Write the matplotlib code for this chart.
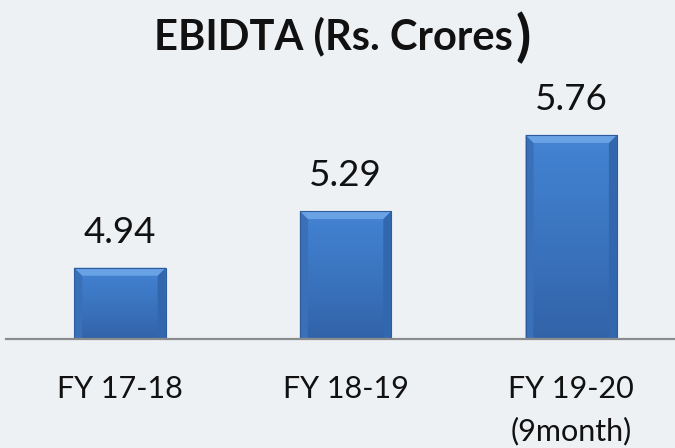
import matplotlib
matplotlib.use("Agg")
import matplotlib.pyplot as plt
import numpy as np
from matplotlib.colors import LinearSegmentedColormap
from matplotlib.patches import Polygon

categories = ["FY 17-18", "FY 18-19", "FY 19-20\n(9month)"]
values = [4.94, 5.29, 5.76]
value_labels = ["4.94", "5.29", "5.76"]
title_main = "EBIDTA (Rs. Crores"
title_close = ")"

plt.rcParams['font.family'] = ['Lato', 'DejaVu Sans']

W, H, DPI = 675, 448, 100
fig = plt.figure(figsize=(W / DPI, H / DPI), dpi=DPI)
bg = "#eef1f4"
fig.patch.set_facecolor(bg)

base_px = 339
scale = 162.0  # px per unit
ymin = 4.5
top_px = 20
ymax = ymin + (base_px - top_px) / scale

ax = fig.add_axes([6 / W, (H - base_px) / H, 1 - 6 / W, (base_px - top_px) / H])
ax.set_facecolor(bg)
ax.set_xlim(-0.505, 2.46)
ax.set_ylim(ymin, ymax)

x = np.arange(len(values))
bars = ax.bar(x, values, width=0.405, bottom=0, color="#4079c4",
              edgecolor="#2d5c9c", linewidth=0.8, zorder=2)

cmap = LinearSegmentedColormap.from_list(
    "g", ["#3163a8", "#3a73bd", "#4180cf", "#5e98df"])
bevel_y = 8 / scale
bevel_x = bevel_y * (scale / 225.5)  # same px in x
for b in bars:
    x0, w = b.get_x(), b.get_width()
    y0, y1 = ymin, b.get_height()
    g = np.linspace(0.0, 0.75, 256).reshape(-1, 1)
    g = np.repeat(g, 2, axis=1)
    im = ax.imshow(g, extent=[x0, x0 + w, y0, y1], origin="lower",
                   cmap=cmap, vmin=0, vmax=1, aspect="auto", zorder=2.5)
    im.set_clip_path(b)
    b.set_facecolor("none")
    b.set_zorder(3)
    bev = Polygon([[x0, y1], [x0 + w, y1], [x0 + w - bevel_x, y1 - bevel_y],
                   [x0 + bevel_x, y1 - bevel_y]], closed=True,
                  facecolor="#6aa2e6", edgecolor="none", zorder=2.7)
    ax.add_patch(bev)
    lb = Polygon([[x0, y1], [x0 + bevel_x, y1 - bevel_y], [x0 + bevel_x, y0],
                  [x0, y0]], closed=True, facecolor="#3a70b8",
                 edgecolor="none", zorder=2.6)
    rb = Polygon([[x0 + w, y1], [x0 + w - bevel_x, y1 - bevel_y],
                  [x0 + w - bevel_x, y0], [x0 + w, y0]], closed=True,
                 facecolor="#3367ad", edgecolor="none", zorder=2.6)
    ax.add_patch(lb)
    ax.add_patch(rb)

for xi, v, lab in zip(x, values, value_labels):
    ax.annotate(lab, (xi, v), xytext=(0, 18), textcoords="offset points",
                ha="center", va="baseline", fontsize=26.5, color="#111111")

for s in ["top", "right", "left"]:
    ax.spines[s].set_visible(False)
ax.spines["bottom"].set_color("#8a8c8e")
ax.spines["bottom"].set_linewidth(1.6)
ax.spines["bottom"].set_zorder(4)
ax.set_yticks([])
ax.set_xticks(x)
ax.set_xticklabels(categories, fontsize=22, color="#111111", linespacing=1.58)
ax.tick_params(axis="x", length=0, pad=26)

fig.text(513 / W, 1 - 49 / H, title_main, ha="right", va="baseline",
         fontsize=30, fontweight="bold", color="#111111")
fig.text(515 / W, 1 - 55 / H, title_close, ha="left", va="baseline",
         fontsize=40, fontweight="bold", color="#111111")

fig.savefig("out.png", dpi=DPI, facecolor=bg)
